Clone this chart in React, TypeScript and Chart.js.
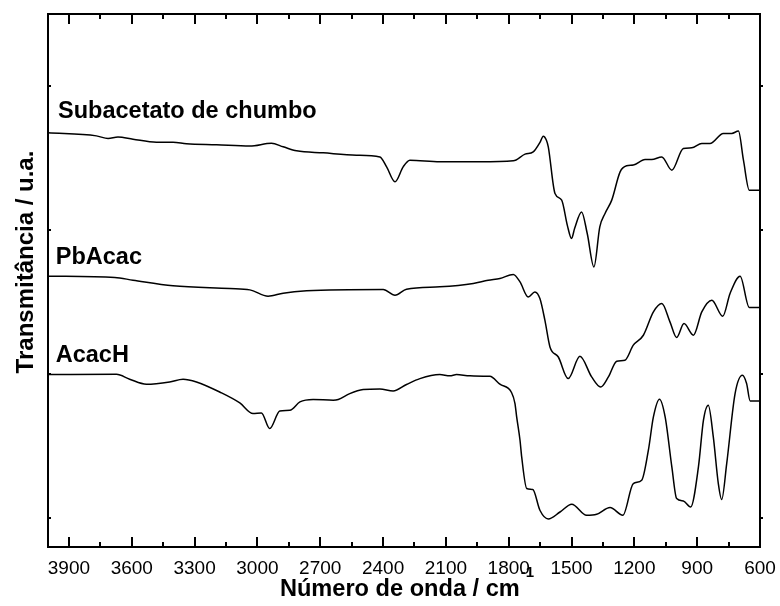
import React, { useEffect, useRef } from "react";
import { Chart, registerables } from "chart.js";

Chart.register(...registerables);

// ---- Data (wavenumber in cm-1, transmittance in arbitrary offset units) ----
const seriesNames = ["Subacetato de chumbo", "PbAcac", "AcacH"];

const wnSub = [4000, 3769, 3713, 3666, 3594, 3482, 3403, 3339, 3195, 3036, 2933, 2877, 2813, 2686, 2527, 2415, 2383, 2343, 2304, 2272, 2129, 1938, 1778, 1722, 1683, 1650, 1635, 1620, 1611, 1579, 1547, 1520, 1500, 1485, 1452, 1425, 1393, 1365, 1340, 1308, 1268, 1237, 1205, 1149, 1117, 1069, 1021, 966, 926, 878, 839, 775, 735, 703, 679, 651, 600];
const tSub = [2.875, 2.854, 2.836, 2.847, 2.831, 2.81, 2.81, 2.799, 2.792, 2.783, 2.803, 2.778, 2.75, 2.736, 2.72, 2.708, 2.639, 2.535, 2.639, 2.685, 2.674, 2.674, 2.681, 2.727, 2.743, 2.811, 2.852, 2.824, 2.778, 2.454, 2.408, 2.233, 2.142, 2.212, 2.326, 2.176, 1.944, 2.222, 2.315, 2.408, 2.604, 2.646, 2.651, 2.69, 2.69, 2.708, 2.616, 2.767, 2.771, 2.801, 2.801, 2.871, 2.871, 2.887, 2.685, 2.477, 2.477];

const wnPb = [4000, 3681, 3594, 3403, 3132, 3036, 2949, 2877, 2765, 2399, 2343, 2288, 2129, 1969, 1898, 1842, 1778, 1746, 1707, 1675, 1651, 1627, 1603, 1563, 1516, 1460, 1404, 1361, 1324, 1284, 1245, 1205, 1157, 1109, 1069, 1030, 998, 963, 918, 878, 830, 778, 743, 695, 651, 600];
const tPb = [1.88, 1.871, 1.852, 1.813, 1.794, 1.785, 1.741, 1.762, 1.778, 1.788, 1.748, 1.79, 1.806, 1.829, 1.852, 1.864, 1.892, 1.84, 1.736, 1.771, 1.725, 1.573, 1.389, 1.319, 1.169, 1.324, 1.181, 1.111, 1.181, 1.29, 1.297, 1.401, 1.47, 1.632, 1.69, 1.563, 1.454, 1.551, 1.47, 1.632, 1.713, 1.602, 1.76, 1.88, 1.663, 1.663];

const wnAc = [4000, 3673, 3610, 3530, 3419, 3355, 3291, 3180, 3084, 3021, 2981, 2941, 2893, 2845, 2797, 2734, 2638, 2614, 2559, 2495, 2415, 2352, 2288, 2224, 2129, 2081, 2049, 1985, 1890, 1842, 1786, 1770, 1762, 1746, 1738, 1714, 1685, 1651, 1611, 1555, 1499, 1428, 1380, 1316, 1255, 1205, 1165, 1133, 1109, 1080, 1053, 1021, 998, 966, 931, 894, 870, 847, 823, 799, 783, 759, 719, 684, 664, 647, 600];
const tAc = [1.197, 1.199, 1.165, 1.13, 1.146, 1.165, 1.146, 1.076, 1.0, 0.926, 0.931, 0.822, 0.944, 0.949, 1.007, 1.024, 1.019, 1.024, 1.065, 1.093, 1.097, 1.083, 1.128, 1.169, 1.197, 1.188, 1.197, 1.188, 1.185, 1.13, 1.071, 0.996, 0.903, 0.741, 0.625, 0.406, 0.399, 0.255, 0.194, 0.243, 0.297, 0.22, 0.227, 0.274, 0.22, 0.44, 0.463, 0.672, 0.903, 1.026, 0.903, 0.556, 0.336, 0.319, 0.278, 0.556, 0.88, 0.984, 0.764, 0.44, 0.329, 0.579, 1.065, 1.192, 1.135, 1.014, 1.014];

const xMajorTicks = [3900, 3600, 3300, 3000, 2700, 2400, 2100, 1800, 1500, 1200, 900, 600];
const xMinorTicks = [3750, 3450, 3150, 2850, 2550, 2250, 1950, 1650, 1350, 1050, 750];
const yTicks = [0.2, 1.2, 2.2, 3.2];

const xTitle = "Número de onda / cm";
const xTitleSup = "-1";
const yTitle = "Transmitância / u.a.";

const FONT = "'Liberation Sans', Arial, Helvetica, sans-serif";

const toPoints = (xs: number[], ys: number[]) => xs.map((x, i) => ({ x, y: ys[i] }));

// label anchors (data coordinates)
const labelAnchors = [
  { x: 3952, y: 2.975 },
  { x: 3963, y: 1.963 },
  { x: 3963, y: 1.285 },
];

const decorPlugin = {
  id: "decor",
  afterDraw(chart: any) {
    const { ctx, chartArea, scales } = chart;
    const xs = scales.x;
    const ys = scales.y;
    const { left, right, top, bottom } = chartArea;
    ctx.save();
    ctx.strokeStyle = "#000";
    ctx.lineWidth = 2;
    ctx.lineCap = "butt";
    // frame
    ctx.strokeRect(left, top, right - left, bottom - top);
    // x ticks
    const drawX = (v: number, len: number) => {
      const px = Math.round(xs.getPixelForValue(v));
      ctx.beginPath();
      ctx.moveTo(px, bottom);
      ctx.lineTo(px, bottom - len);
      ctx.moveTo(px, top);
      ctx.lineTo(px, top + len);
      ctx.stroke();
    };
    xMajorTicks.forEach((v) => drawX(v, 10));
    xMinorTicks.forEach((v) => drawX(v, 5));
    // y ticks
    yTicks.forEach((v) => {
      const py = Math.round(ys.getPixelForValue(v));
      ctx.beginPath();
      ctx.moveTo(left, py);
      ctx.lineTo(left + 3, py);
      ctx.moveTo(right, py);
      ctx.lineTo(right + 3, py);
      ctx.stroke();
    });

    // series labels
    ctx.fillStyle = "#000";
    ctx.font = `bold 23.5px ${FONT}`;
    ctx.textAlign = "left";
    ctx.textBaseline = "alphabetic";
    seriesNames.forEach((name, i) => {
      const a = labelAnchors[i];
      ctx.fillText(name, xs.getPixelForValue(a.x), ys.getPixelForValue(a.y));
    });

    // x title with superscript
    ctx.font = `bold 23.6px ${FONT}`;
    const mainW = ctx.measureText(xTitle).width;
    ctx.font = `bold 15px ${FONT}`;
    const supW = ctx.measureText(xTitleSup).width;
    const cx = (left + right) / 2 + 3;
    const startX = cx - (mainW + supW + 1) / 2;
    ctx.font = `bold 23.6px ${FONT}`;
    ctx.fillText(xTitle, startX, 596);
    ctx.font = `bold 15px ${FONT}`;
    ctx.fillText(xTitleSup, startX + mainW + 1, 577);

    // y title
    ctx.translate(33, 262);
    ctx.rotate(-Math.PI / 2);
    ctx.font = `bold 24px ${FONT}`;
    ctx.textAlign = "center";
    ctx.fillText(yTitle, 0, 0);
    ctx.restore();
  },
};

export default function App() {
  const canvasRef = useRef<HTMLCanvasElement | null>(null);

  useEffect(() => {
    if (!canvasRef.current) return;
    const mk = (xs: number[], ys: number[]) => ({
      data: toPoints(xs, ys),
      borderColor: "#000",
      borderWidth: 1.5,
      pointRadius: 0,
      fill: false,
      cubicInterpolationMode: "monotone" as const,
    });
    const chart = new Chart(canvasRef.current, {
      type: "line",
      data: {
        datasets: [mk(wnSub, tSub), mk(wnPb, tPb), mk(wnAc, tAc)],
      },
      options: {
        animation: false,
        responsive: false,
        layout: { padding: { left: 48, right: 20, top: 14, bottom: 0 } },
        plugins: { legend: { display: false }, tooltip: { enabled: false } },
        scales: {
          x: {
            type: "linear",
            min: 600,
            max: 4000,
            reverse: true,
            grid: { display: false, drawTicks: false },
            border: { display: false },
            afterBuildTicks: (scale: any) => {
              scale.ticks = xMajorTicks.map((v) => ({ value: v }));
            },
            afterFit: (scale: any) => {
              scale.height = 59;
              scale.paddingLeft = 0;
              scale.paddingRight = 0;
            },
            ticks: {
              autoSkip: false,
              maxRotation: 0,
              padding: 10,
              color: "#000",
              font: { family: FONT, size: 19 },
              callback: (v: any) => String(v),
            },
          },
          y: {
            type: "linear",
            min: 0,
            max: 3.7,
            display: false,
          },
        },
      },
      plugins: [decorPlugin],
    });
    return () => chart.destroy();
  }, []);

  return (
    <div style={{ position: "absolute", left: 0, top: 0, width: 780, height: 606, background: "#fff" }}>
      <canvas ref={canvasRef} width={780} height={606} style={{ display: "block" }} />
    </div>
  );
}
